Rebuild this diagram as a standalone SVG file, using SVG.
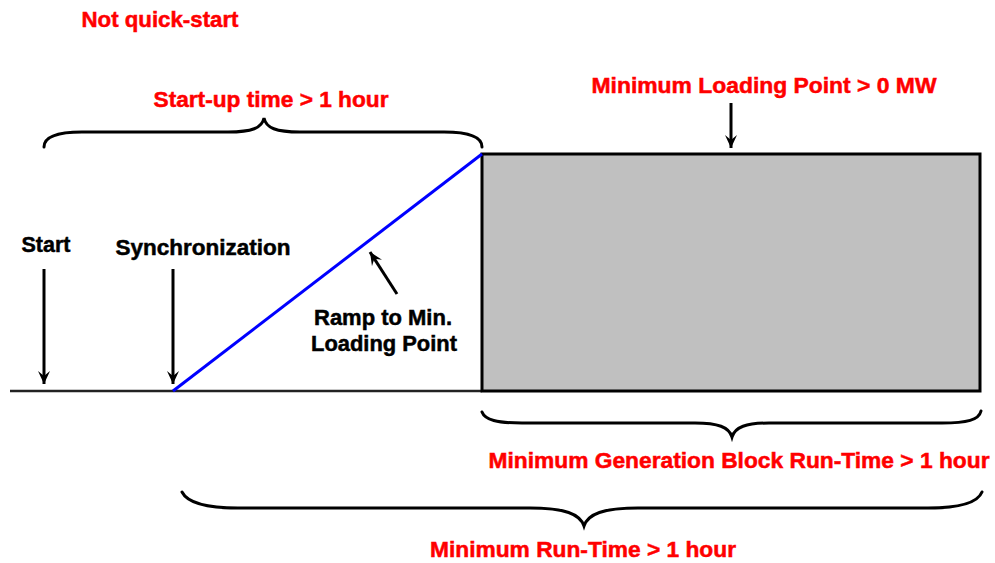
<svg xmlns="http://www.w3.org/2000/svg" width="995" height="563" viewBox="0 0 995 563">
  <style>
    .lbl { font-family: "Liberation Sans", Arial, sans-serif; font-weight: bold; font-size: 22px; text-anchor: middle; stroke-width: 0.5; }
    .red { fill: #ff0000; stroke: #ff0000; }
    .blk { fill: #000000; stroke: #000000; }
    .arrow { stroke: #000; stroke-width: 3; fill: none; marker-end: url(#head); }
    .brace { stroke: #000; stroke-width: 3; fill: none; stroke-linecap: round; }
  </style>
  <defs>
    <marker id="head" viewBox="0 0 14 14" refX="13" refY="7" markerWidth="14" markerHeight="14" markerUnits="userSpaceOnUse" orient="auto">
      <path d="M0,1 L13,7 L0,13 L5,7 Z" fill="#000"/>
    </marker>
  </defs>
  <rect width="995" height="563" fill="#ffffff"/>

  <!-- time axis before the generation block -->
  <g id="axis">
    <line x1="10" y1="391" x2="482" y2="391" stroke="#222" stroke-width="2.5"/>
  </g>

  <!-- generation block -->
  <g id="generation-block">
    <rect x="482" y="154" width="498" height="237" fill="#c0c0c0" stroke="#000" stroke-width="3"/>
  </g>

  <!-- ramp from synchronization up to minimum loading point -->
  <g id="ramp">
    <line x1="173" y1="391" x2="482" y2="154" stroke="#0000ff" stroke-width="3"/>
  </g>

  <!-- braces -->
  <g id="braces">
    <path class="brace" d="M44,147 C44,137 58,132 82,132 L228,132 C252,132 262,128 264,118 C266,128 276,132 300,132 L444,132 C468,132 482,137 482,147"/>
    <path class="brace" d="M482,412 C485,420 497,423 522,423 L695,423 C718,423 729,427 732,437 C735,427 746,423 769,423 L942,423 C967,423 979,420 981,411"/>
    <path class="brace" d="M182,492 C187,502 205,508 238,508 L530,508 C565,508 580,514 584,526 C588,514 603,508 638,508 L928,508 C960,508 978,502 982,492"/>
  </g>

  <!-- connectors -->
  <g id="connectors">
    <line class="arrow" x1="44" y1="269" x2="44" y2="384"/>
    <line class="arrow" x1="173" y1="269" x2="173" y2="384"/>
    <line class="arrow" x1="731" y1="103" x2="731" y2="148"/>
    <line class="arrow" x1="397" y1="294" x2="370" y2="252"/>
  </g>

  <!-- labels -->
  <g id="not-quick-start"><text class="lbl red" x="160" y="27" textLength="157" lengthAdjust="spacingAndGlyphs">Not quick-start</text></g>
  <g id="start-up-time"><text class="lbl red" x="271" y="107" textLength="235" lengthAdjust="spacingAndGlyphs">Start-up time &gt; 1 hour</text></g>
  <g id="min-loading-point"><text class="lbl red" x="764" y="93" textLength="345" lengthAdjust="spacingAndGlyphs">Minimum Loading Point &gt; 0 MW</text></g>
  <g id="start"><text class="lbl blk" x="46" y="252" textLength="49" lengthAdjust="spacingAndGlyphs">Start</text></g>
  <g id="synchronization"><text class="lbl blk" x="203" y="255" textLength="175" lengthAdjust="spacingAndGlyphs">Synchronization</text></g>
  <g id="ramp-label">
    <text class="lbl blk" x="383" y="325" textLength="138" lengthAdjust="spacingAndGlyphs">Ramp to Min.</text>
    <text class="lbl blk" x="384" y="351" textLength="146" lengthAdjust="spacingAndGlyphs">Loading Point</text>
  </g>
  <g id="min-gen-block-run-time"><text class="lbl red" x="739" y="468" textLength="501" lengthAdjust="spacingAndGlyphs">Minimum Generation Block Run-Time &gt; 1 hour</text></g>
  <g id="min-run-time"><text class="lbl red" x="583" y="557" textLength="306" lengthAdjust="spacingAndGlyphs">Minimum Run-Time &gt; 1 hour</text></g>
</svg>
